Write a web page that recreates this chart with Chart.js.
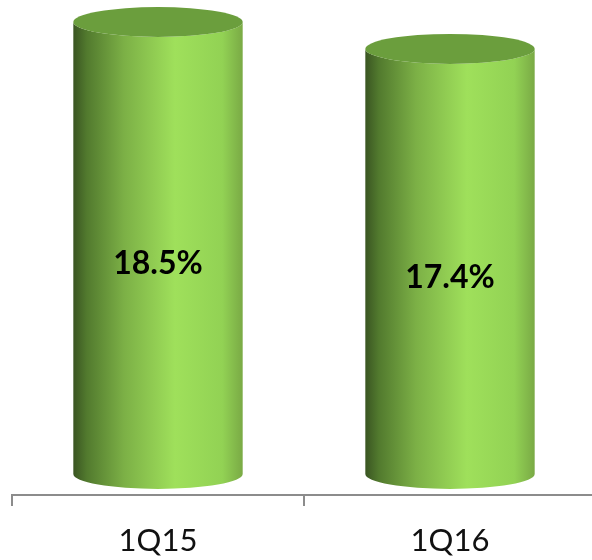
<!DOCTYPE html>
<html>
<head>
<meta charset="utf-8">
<script src="https://cdn.jsdelivr.net/npm/chart.js@4/dist/chart.umd.min.js"></script>
<style>
  html, body { margin: 0; padding: 0; background: #fff; overflow: hidden; }
  #wrap { width: 600px; height: 560px; position: relative; }
</style>
</head>
<body>
<div id="wrap"><canvas id="ratio"></canvas></div>
<script>
var quarters = ['1Q15', '1Q16'];
var ratios = [18.5, 17.4];
var valueLabels = ['18.5%', '17.4%'];

var FLOOR = 21;   // cylinder base sits a bit behind the axis line
var RY = 15;      // ellipse half height

// draws the 3D cylinders from the bar elements
var cylinders = {
    id: 'cylinders',
    afterDatasetsDraw: function (chart) {
        var c = chart.ctx;
        var meta = chart.getDatasetMeta(0);
        meta.data.forEach(function (bar, i) {
            var cx = bar.x;
            var rx = bar.width / 2;
            var top = bar.y - FLOOR;
            var bot = bar.base - FLOOR;
            var left = cx - rx, right = cx + rx;

            var g = c.createLinearGradient(left, 0, right, 0);
            g.addColorStop(0, '#3a5522');
            g.addColorStop(0.08, '#527a2e');
            g.addColorStop(0.3, '#7cb046');
            g.addColorStop(0.6, '#9fe05b');
            g.addColorStop(0.88, '#92d254');
            g.addColorStop(1, '#7aaa45');

            c.save();
            c.beginPath();
            c.moveTo(left, top);
            c.lineTo(left, bot);
            c.ellipse(cx, bot, rx, RY, 0, Math.PI, 0, true);
            c.lineTo(right, top);
            c.ellipse(cx, top, rx, RY, 0, 0, Math.PI, false);
            c.closePath();
            c.fillStyle = g;
            c.fill();

            c.beginPath();
            c.ellipse(cx, top, rx, RY, 0, 0, Math.PI * 2);
            c.fillStyle = '#6b9e3d';
            c.fill();

            c.font = 'bold 32px Lato, "DejaVu Sans", sans-serif';
            c.fillStyle = '#000';
            c.textAlign = 'center';
            c.textBaseline = 'middle';
            c.fillText(valueLabels[i], cx, (bar.y + bar.base) / 2 - 5);
            c.restore();
        });
    }
};

var ctx = document.getElementById('ratio').getContext('2d');
var chart = new Chart(ctx, {
    type: 'bar',
    data: {
        labels: quarters,
        datasets: [{
            data: ratios,
            backgroundColor: 'rgba(0,0,0,0)',
            borderWidth: 0,
            categoryPercentage: 1,
            barPercentage: 0.58
        }]
    },
    options: {
        responsive: true,
        maintainAspectRatio: false,
        animation: false,
        layout: { padding: { left: 12, right: 4, top: 0, bottom: 0 } },
        plugins: { legend: { display: false }, tooltip: { enabled: false } },
        scales: {
            x: {
                afterFit: function (s) { s.height = 65; },
                grid: {
                    display: true,
                    drawOnChartArea: false,
                    drawTicks: true,
                    tickLength: 11,
                    color: '#8c8c8c',
                    lineWidth: 2
                },
                border: { display: true, color: '#8c8c8c', width: 2 },
                ticks: {
                    padding: 16,
                    color: '#111',
                    font: { family: 'Lato, "DejaVu Sans", sans-serif', size: 31 }
                }
            },
            y: {
                display: false,
                min: 0,
                max: 20.26
            }
        }
    },
    plugins: [cylinders]
});
</script>
</body>
</html>
